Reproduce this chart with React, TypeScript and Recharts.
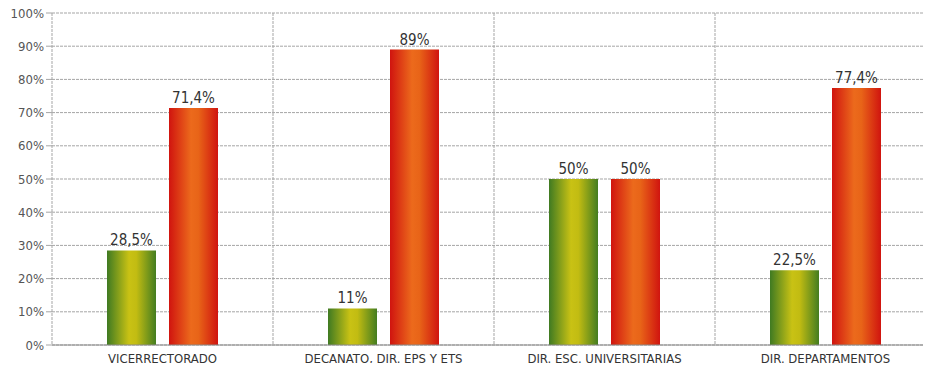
import { BarChart, Bar, XAxis, YAxis, CartesianGrid, LabelList } from 'recharts';

const categories = ['VICERRECTORADO', 'DECANATO, DIR. EPS Y ETS', 'DIR. ESC. UNIVERSITARIAS', 'DIR. DEPARTAMENTOS'];
const greenValues = [28.5, 11, 50, 22.5];
const redValues = [71.4, 89, 50, 77.4];
const yTicks = [0, 10, 20, 30, 40, 50, 60, 70, 80, 90, 100];

const data = categories.map((name, i) => ({ name, green: greenValues[i], red: redValues[i] }));

const fmt = (v: any) => `${String(v).replace('.', ',')}%`;
const font = '"Liberation Sans Narrow", "DejaVu Sans Condensed", sans-serif';

export default function App() {
  return (
    <div style={{ margin: -8, width: 931, height: 371, overflow: 'hidden', background: '#fff' }}>
      <BarChart
        width={940}
        height={371}
        data={data}
        margin={{ top: 13, right: 4, bottom: 0, left: 0 }}
        barSize={49}
        barGap={13}
      >
        <defs>
          <linearGradient id="gGreen" x1="0" y1="0" x2="1" y2="0">
            <stop offset="0%" stopColor="#3f7a22" />
            <stop offset="45%" stopColor="#c9c214" />
            <stop offset="60%" stopColor="#c2bc12" />
            <stop offset="100%" stopColor="#447d20" />
          </linearGradient>
          <linearGradient id="gRed" x1="0" y1="0" x2="1" y2="0">
            <stop offset="0%" stopColor="#d0140f" />
            <stop offset="45%" stopColor="#ec6a1c" />
            <stop offset="60%" stopColor="#e86418" />
            <stop offset="100%" stopColor="#d0140f" />
          </linearGradient>
        </defs>
        <CartesianGrid
          stroke="#a5a5a5"
          strokeDasharray="3 1"
          verticalCoordinatesGenerator={({ offset }: any) =>
            [1, 2, 3, 4].map((k) => offset.left + (k * offset.width) / 4)
          }
        />
        <XAxis
          dataKey="name"
          axisLine={{ stroke: '#8a8a8a' }}
          tickLine={false}
          height={26}
          tickMargin={3}
          interval={0}
          tick={{ fontSize: 13, fill: '#333', fontFamily: font }}
        />
        <YAxis
          width={52}
          domain={[0, 100]}
          ticks={yTicks}
          tickFormatter={(v) => `${v}%`}
          axisLine={{ stroke: '#a5a5a5', strokeDasharray: '3 1' }}
          tickLine={{ stroke: '#a5a5a5' }}
          tick={{ fontSize: 13, fill: '#555', fontFamily: font }}
        />
        <Bar dataKey="green" fill="url(#gGreen)" isAnimationActive={false}>
          <LabelList
            dataKey="green"
            position="top"
            offset={5}
            formatter={fmt}
            style={{ fontSize: 15, fill: '#333', fontFamily: font }}
          />
        </Bar>
        <Bar dataKey="red" fill="url(#gRed)" isAnimationActive={false}>
          <LabelList
            dataKey="red"
            position="top"
            offset={5}
            formatter={fmt}
            style={{ fontSize: 15, fill: '#333', fontFamily: font }}
          />
        </Bar>
      </BarChart>
    </div>
  );
}
